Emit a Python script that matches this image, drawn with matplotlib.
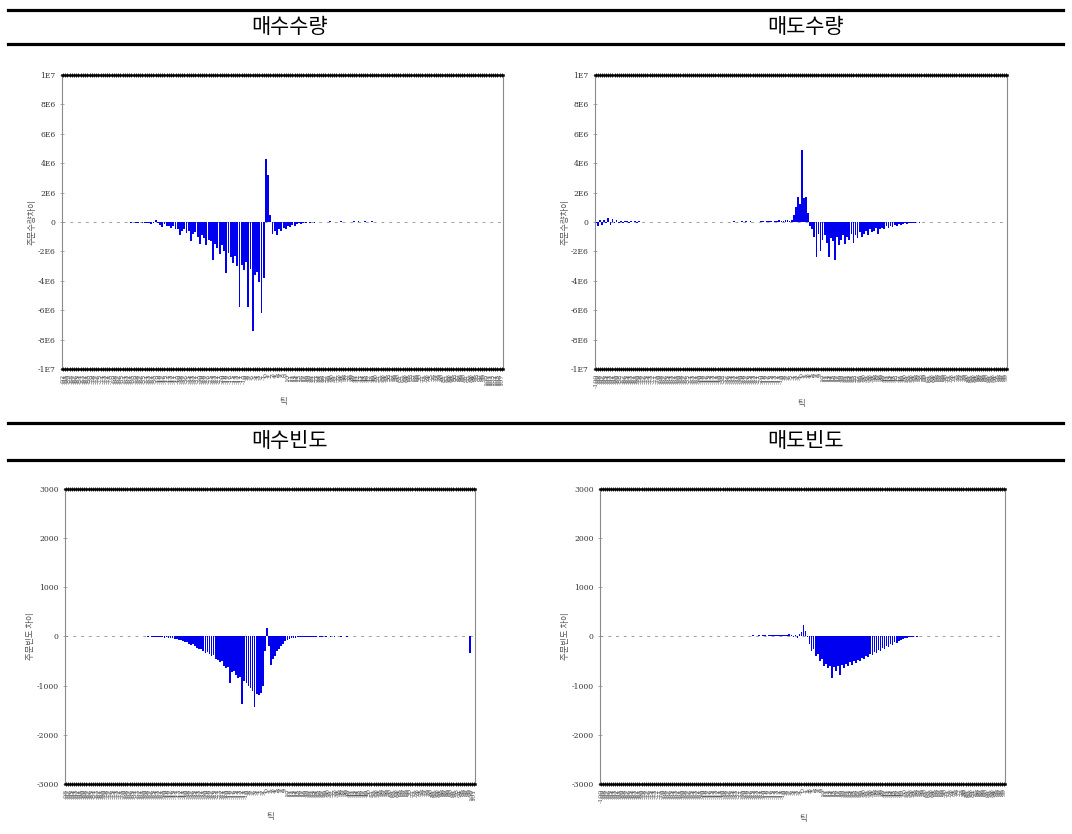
import numpy as np
import matplotlib
matplotlib.use("Agg")
import matplotlib.pyplot as plt
from matplotlib.lines import Line2D

plt.rcParams['font.family'] = ['Noto Sans CJK KR', 'DejaVu Sans']

# 셀 제목
titles = ['매수수량', '매도수량', '매수빈도', '매도빈도']

# 틱 라벨 (호가 틱 위치)
buy_qty_ticks = list(range(-92, 108))
sell_qty_ticks = list(range(-100, 100))
buy_cnt_ticks = list(range(-98, 102))
sell_cnt_ticks = list(range(-100, 100))

# 주문수량 차이 (단위: 백만)
buy_qty = [
    0, 0, 0, 0, 0, 0, 0, 0, 0, 0,
    0, 0, 0, 0, 0.02, 0, 0, 0, 0, 0,
    0, 0, 0, 0, 0, 0, -0.02, 0, 0, 0,
    -0.03, -0.05, 0, -0.04, -0.06, -0.03, -0.08, -0.05, -0.1, -0.04,
    -0.15, -0.06, 0.1, -0.1, -0.2, -0.35, -0.15, -0.25, -0.3, -0.4,
    -0.3, -0.5, -0.45, -0.9, -0.6, -0.5, -0.75, -0.6, -1.3, -0.8,
    -0.7, -1.0, -1.5, -0.9, -1.1, -1.6, -1.2, -1.3, -2.6, -1.5,
    -1.8, -2.2, -1.6, -2.0, -3.5, -2.1, -2.4, -2.8, -2.3, -3.0,
    -5.8, -2.9, -3.3, -2.7, -5.8, -3.2, -7.4, -3.6, -3.4, -4.1,
    -6.2, -3.8, 4.3, 3.2, 0.5, -0.8, -0.6, -0.9, -0.5, -0.6,
    -0.4, -0.5, -0.3, -0.35, -0.2, -0.25, -0.15, -0.1, -0.12, -0.05,
    -0.08, -0.03, -0.05, 0.02, -0.04, 0, -0.03, 0.03, 0, -0.02,
    0, 0.04, 0, 0, -0.03, 0, 0.05, 0, 0, 0.03,
    0, 0, 0.05, 0, 0.04, 0, 0, 0.06, 0, 0,
    0.05, 0, 0, 0.03, 0, 0, 0, 0, 0.02, 0,
    0, 0, 0, 0, 0, 0, 0, 0, 0, 0,
    0, 0, 0, 0, 0, 0, 0, 0, 0, 0,
    0, 0, 0, 0, 0, 0, 0, 0, 0, 0,
    0, 0, 0, 0, 0, 0, 0, 0, 0, 0,
    0, 0, 0, 0, 0, 0, 0, 0, 0, 0,
]
sell_qty = [
    -0.1, -0.3, 0.1, -0.2, 0.15, -0.1, 0.3, -0.2, 0.2, -0.1,
    0.1, -0.05, 0.08, -0.1, 0.05, 0.06, -0.05, 0.04, 0, 0.08,
    -0.05, 0.05, 0.03, 0, -0.03, 0, 0, 0.02, 0, 0,
    0, 0, 0, 0, 0, 0, 0, 0, 0.02, 0,
    0, 0, 0, 0.02, 0, 0, 0, 0, 0, 0,
    0, 0, 0, 0, 0, 0.02, 0, 0, 0, 0,
    0.02, 0, 0, 0.03, 0, 0.02, 0, 0.04, 0, 0.03,
    0.02, 0.05, 0.03, 0.04, 0, 0.05, 0.03, 0.02, 0, 0,
    0.04, 0.05, 0.03, 0.06, 0.04, 0.05, 0.02, 0.08, 0.04, 0.1,
    0.06, 0.08, 0.12, 0.1, 0.05, 0.15, 0.5, 1.0, 1.7, 1.2,
    4.9, 1.6, 1.7, 0.6, -0.3, -0.5, -1.0, -2.4, -0.8, -2.0,
    -1.2, -0.9, -1.4, -2.4, -1.1, -1.3, -2.6, -1.0, -1.6, -1.2,
    -0.9, -1.5, -1.0, -1.2, -0.8, -1.4, -0.9, -1.1, -0.7, -1.0,
    -0.8, -0.6, -0.9, -0.5, -0.7, -0.6, -0.4, -0.8, -0.5, -0.4,
    -0.5, -0.3, -0.4, -0.25, -0.35, -0.2, -0.3, -0.15, -0.2, -0.12,
    -0.1, -0.15, -0.08, -0.1, -0.05, -0.06, -0.03, -0.04, 0, -0.02,
    0, 0, 0.02, 0, 0, 0, 0, 0, 0, 0,
    0, 0, 0, 0, 0, 0, 0, 0, 0, 0,
    0, 0, 0, 0, 0, 0, 0, 0, 0, 0,
    0, 0, 0, 0, 0, 0, 0, 0, 0, 0,
]

# 주문빈도 차이 (건)
buy_cnt = [
    0, 0, 0, 0, 0, 0, 0, 0, 0, 0,
    0, 0, 0, 0, 0, 0, 0, 0, 0, 0,
    0, 0, 0, 0, 0, 0, 0, 0, 0, 0,
    0, 0, 0, 0, 0, 0, 0, 0, 0, 0,
    -5, 0, -10, -5, -15, -10, -20, -15, -25, -20,
    -30, -40, -35, -50, -60, -70, -80, -100, -120, -110,
    -150, -170, -160, -200, -230, -260, -250, -300, -330, -310,
    -360, -400, -380, -450, -480, -520, -500, -600, -650, -620,
    -940, -720, -700, -780, -850, -820, -1370, -900, -950, -1000,
    -1050, -1100, -1430, -1180, -1200, -1150, -1000, -300, 180, -200,
    -590, -450, -400, -300, -250, -200, -150, -100, -80, -60,
    -40, -30, -25, -20, -15, -20, -10, -15, -10, -5,
    -10, -5, -8, 0, -10, -5, 0, -5, 0, -5,
    0, -3, 0, 0, -5, 0, 0, -3, 0, 0,
    0, 0, 0, 0, 0, 0, 0, 0, 0, 0,
    0, 0, 0, 0, 0, 0, 0, 0, 0, 0,
    0, 0, 0, 0, 0, 0, 0, 0, 0, 0,
    0, 0, 0, 0, 0, 0, 0, 0, 0, 0,
    0, 0, 0, 0, 0, 0, 0, 0, 0, 0,
    0, 0, 0, 0, 0, 0, 0, -330, 0, 0,
]
sell_cnt = [
    0, 0, 0, 0, 0, 0, 0, 0, 0, 0,
    0, 0, 0, 0, 0, 0, 0, 0, 0, 0,
    0, 0, 0, 0, 0, 0, 0, 0, 0, 0,
    0, 0, 0, 0, 0, 0, 0, 0, 0, 0,
    0, 0, 0, 0, 0, 0, 0, 0, 0, 5,
    0, 5, 0, 8, 0, 5, 5, 0, 8, 5,
    10, 5, 8, 10, 5, 12, 8, 10, 15, 10,
    12, 15, 10, 18, 15, 20, 12, 18, 20, 15,
    20, 25, 18, 22, 25, 20, 28, 30, 25, 35,
    30, 40, 35, 45, 20, -20, 30, -30, 60, 100,
    230, 120, -20, -150, -300, -250, -400, -350, -500, -450,
    -600, -550, -650, -600, -840, -620, -700, -600, -780, -580,
    -650, -560, -600, -520, -580, -500, -540, -480, -500, -440,
    -460, -400, -420, -360, -380, -320, -340, -280, -300, -240,
    -250, -200, -210, -160, -170, -120, -130, -90, -80, -60,
    -40, -30, -15, -10, -5, 0, -5, 0, 0, 0,
    0, 0, 0, 0, 0, 0, 0, 0, 0, 0,
    0, 0, 0, 0, 0, 0, 0, 0, 0, 0,
    0, 0, 0, 0, 0, 0, 0, 0, 0, 0,
    0, 0, 0, 0, 0, 0, 0, 0, 0, 0,
]

qty_yticks = [1e7, 8e6, 6e6, 4e6, 2e6, 0, -2e6, -4e6, -6e6, -8e6, -1e7]
qty_ylabels = ['1E7', '8E6', '6E6', '4E6', '2E6', '0', '-2E6', '-4E6', '-6E6', '-8E6', '-1E7']
cnt_yticks = [3000, 2000, 1000, 0, -1000, -2000, -3000]


def draw(ax, ticks, values, yticks, ylabels, ylabel):
    x = np.arange(len(values))
    ax.axhline(0, color='#a0a0a0', lw=0.7, dashes=(3, 5), zorder=1)
    ax.bar(x, values, width=0.85, color='#0000f0', lw=0, zorder=2)
    ax.set_xlim(-0.5, len(values) - 0.5)
    ax.set_ylim(yticks[-1], yticks[0])
    ax.set_xticks(x)
    ax.set_xticklabels([str(t) for t in ticks], rotation=90, fontsize=4.6,
                       color='#555555', family='DejaVu Serif')
    ax.tick_params(axis='x', direction='inout', length=3.5, width=0.6,
                   top=True, pad=1.5)
    ax.set_yticks(yticks)
    ax.set_yticklabels(ylabels, family='DejaVu Serif')
    ax.tick_params(axis='y', direction='inout', length=3, width=0.5,
                   color='#888888', labelsize=5.5, labelcolor='#333333', pad=3)
    for side in ['left', 'right']:
        ax.spines[side].set_color('#8a8a8a')
        ax.spines[side].set_linewidth(0.8)
    for side in ['top', 'bottom']:
        ax.spines[side].set_color('black')
        ax.spines[side].set_linewidth(1.8)
    ax.set_ylabel(ylabel, fontsize=6, color='#555555', labelpad=1)
    ax.set_xlabel('틱', fontsize=6, color='#555555', labelpad=8)


fig = plt.figure(figsize=(10.72, 8.34), dpi=100)

# 표 형태의 가로 구분선
for y in [0.988, 0.947, 0.4928, 0.4484]:
    fig.add_artist(Line2D([0.0075, 0.9916], [y, y], color='black', lw=2.3))

fig.text(0.2705, 0.9675, titles[0], ha='center', va='center', fontsize=15)
fig.text(0.751, 0.9675, titles[1], ha='center', va='center', fontsize=15)
fig.text(0.2705, 0.4715, titles[2], ha='center', va='center', fontsize=15)
fig.text(0.751, 0.4715, titles[3], ha='center', va='center', fontsize=15)

ax1 = fig.add_axes([0.0578, 0.5576, 0.4114, 0.3525])
ax2 = fig.add_axes([0.555, 0.5576, 0.3843, 0.3525])
ax3 = fig.add_axes([0.0606, 0.06, 0.3825, 0.3537])
ax4 = fig.add_axes([0.5597, 0.06, 0.3778, 0.3537])

draw(ax1, buy_qty_ticks, np.array(buy_qty) * 1e6, qty_yticks, qty_ylabels, '주문수량차이')
draw(ax2, sell_qty_ticks, np.array(sell_qty) * 1e6, qty_yticks, qty_ylabels, '주문수량차이')
draw(ax3, buy_cnt_ticks, buy_cnt, cnt_yticks, [str(v) for v in cnt_yticks], '주문빈도 차이')
draw(ax4, sell_cnt_ticks, sell_cnt, cnt_yticks, [str(v) for v in cnt_yticks], '주문빈도 차이')

fig.savefig('out.png', dpi=100)
